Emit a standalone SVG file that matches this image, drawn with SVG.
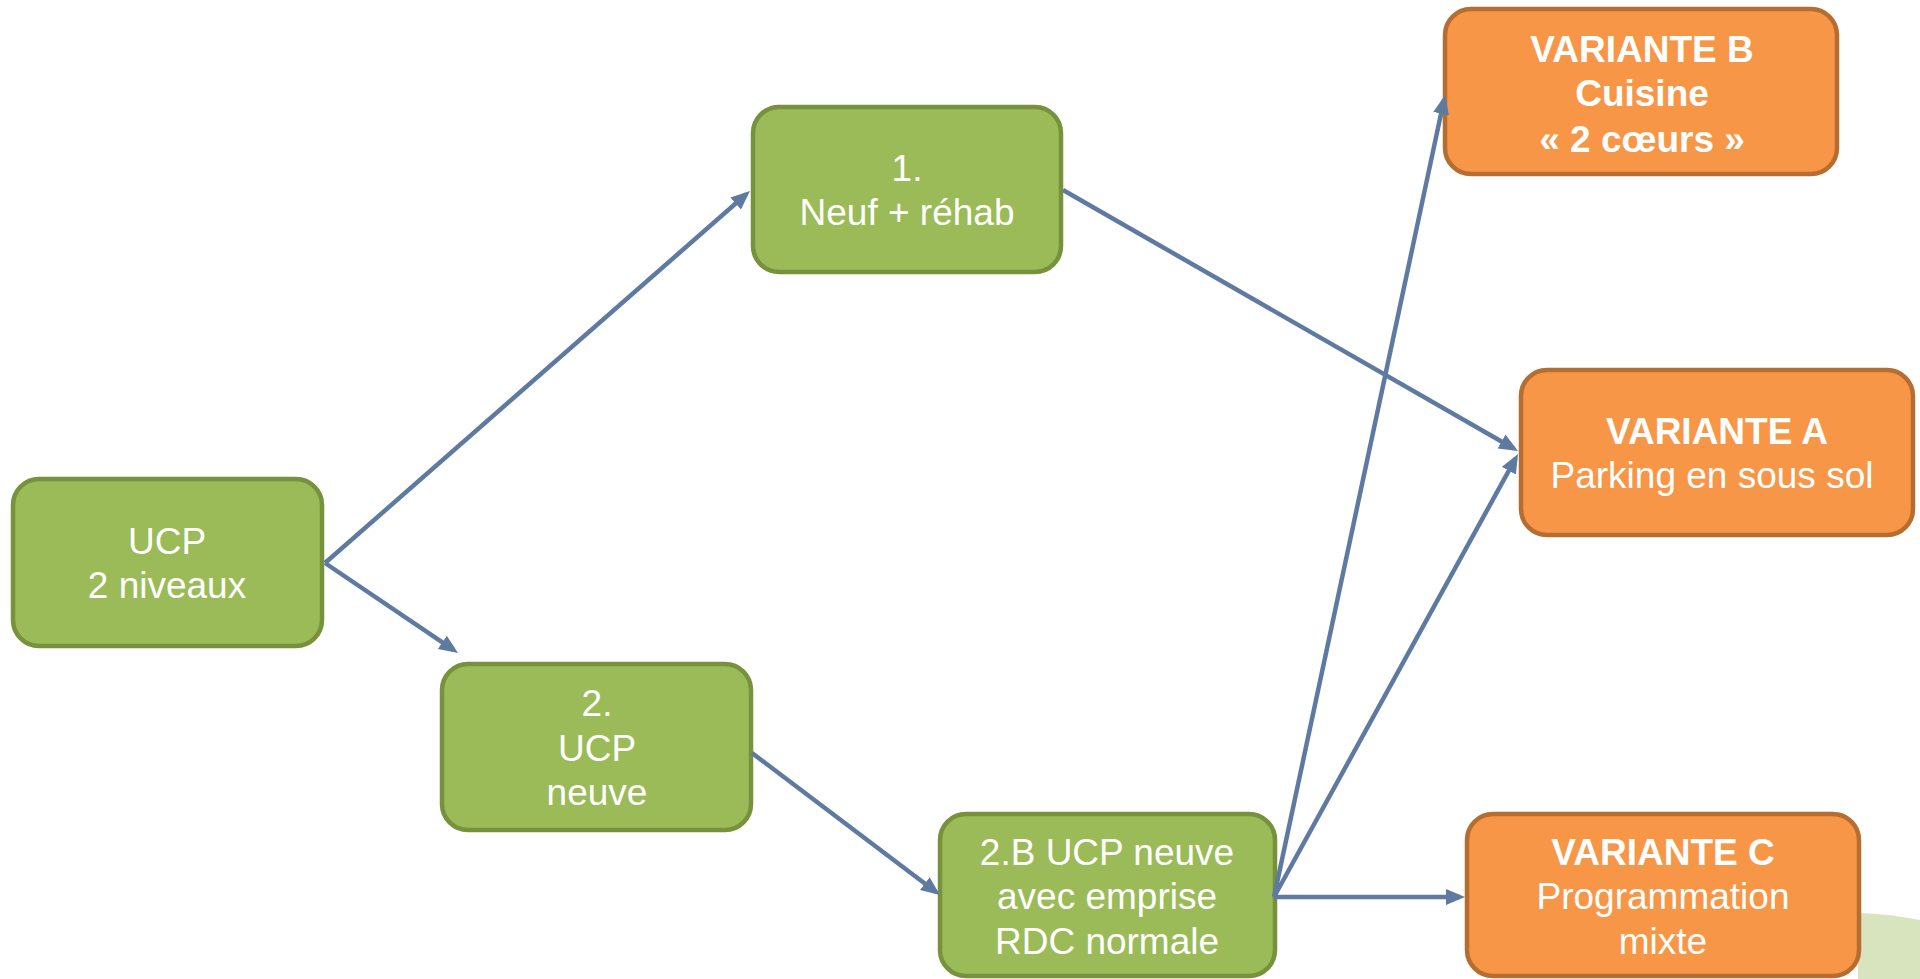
<svg xmlns="http://www.w3.org/2000/svg" width="1920" height="979" viewBox="0 0 1920 979">
<defs>
<style>
.g{fill:#9bbb59;stroke:#76923c;stroke-width:4.5}
.o{fill:#f79646;stroke:#b66d31;stroke-width:4.5}
.t{font-family:"Liberation Sans",Arial,sans-serif;font-size:37px;fill:#ffffff;text-anchor:middle}
.b{font-weight:bold}
.c{fill:none;stroke:#5f7aa0;stroke-width:4.5;marker-end:url(#ah)}
</style>
<marker id="ah" markerUnits="userSpaceOnUse" markerWidth="22" markerHeight="18" refX="14" refY="8" orient="auto">
<path d="M0,0 L19,8 L0,16 z" fill="#5f7aa0"/>
</marker>
</defs>
<rect width="1920" height="979" fill="#ffffff"/>
<path id="deco" d="M1858,913 Q1890,914 1920,920 L1920,979 L1858,979 Z" fill="#d7e4bd"/>
<g id="n-ucp">
<rect class="g" x="13" y="479" width="309" height="167" rx="26"/>
<text class="t" x="167" y="554">UCP</text>
<text class="t" x="167" y="598">2 niveaux</text>
</g>
<g id="n-1">
<rect class="g" x="753" y="107" width="308" height="165" rx="26"/>
<text class="t" x="907" y="181">1.</text>
<text class="t" x="907" y="225">Neuf + réhab</text>
</g>
<g id="n-2">
<rect class="g" x="442" y="664" width="309" height="166" rx="26"/>
<text class="t" x="597" y="716">2.</text>
<text class="t" x="597" y="761">UCP</text>
<text class="t" x="597" y="805">neuve</text>
</g>
<g id="n-2b">
<rect class="g" x="940" y="814" width="335" height="162" rx="26"/>
<text class="t" x="1107" y="865">2.B UCP neuve</text>
<text class="t" x="1107" y="909">avec emprise</text>
<text class="t" x="1107" y="954">RDC normale</text>
</g>
<g id="n-varB">
<rect class="o" x="1445" y="9" width="392" height="165" rx="26"/>
<text class="t b" x="1642" y="62">VARIANTE B</text>
<text class="t b" x="1642" y="106">Cuisine</text>
<text class="t b" x="1642" y="152">« 2 cœurs »</text>
</g>
<g id="n-varA">
<rect class="o" x="1521" y="370" width="392" height="165" rx="26"/>
<text class="t b" x="1717" y="444">VARIANTE A</text>
<text class="t" x="1712" y="488">Parking en sous sol</text>
</g>
<g id="n-varC">
<rect class="o" x="1467" y="814" width="392" height="162" rx="26"/>
<text class="t b" x="1663" y="865">VARIANTE C</text>
<text class="t" x="1663" y="909">Programmation</text>
<text class="t" x="1663" y="954">mixte</text>
</g>
<g id="connectors">
<path class="c" d="M325,563 L746.2,194.3"/>
<path class="c" d="M325,563 L453.9,650.2"/>
<path class="c" d="M1063,190 L1513.7,448.5"/>
<path class="c" d="M752,753 L936,892"/>
<path class="c" d="M1274,897 L1444,99.9"/>
<path class="c" d="M1274,897 L1515.6,458.4"/>
<path class="c" d="M1274,897 L1460,897"/>
</g>
</svg>
